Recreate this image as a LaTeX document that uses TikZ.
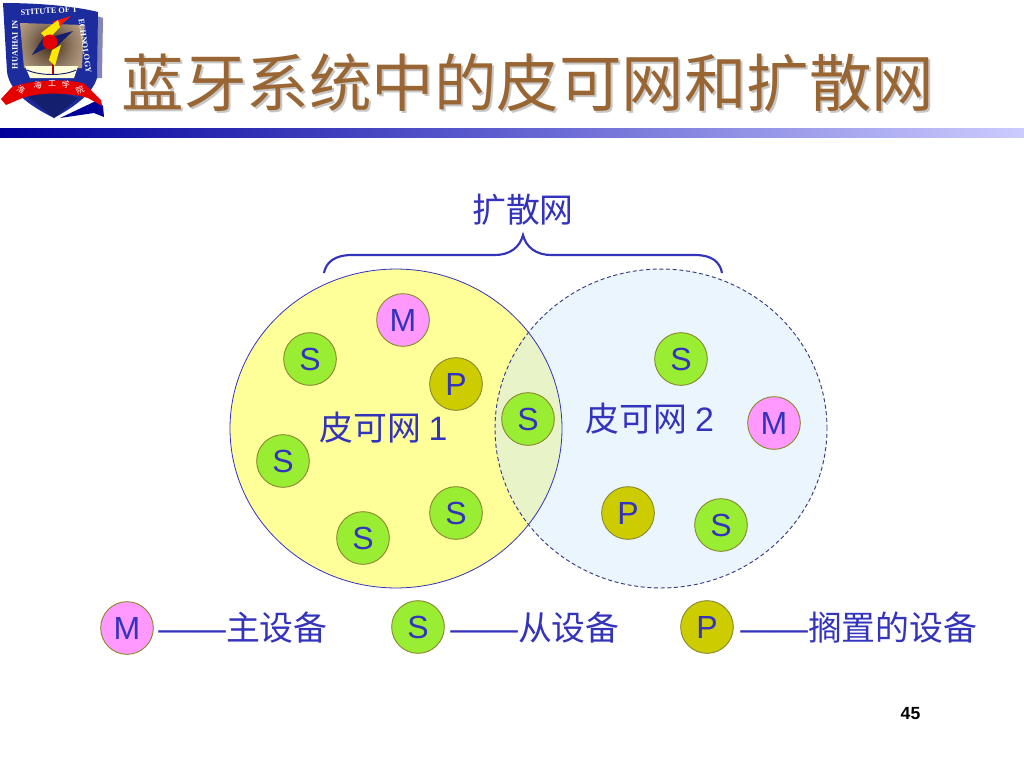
\documentclass[tikz,border=0pt]{standalone}
\usepackage{fontspec}
\setmainfont{Liberation Sans}
\newfontfamily\cjk{Noto Sans CJK SC}
\newfontfamily\logoserif{Liberation Serif}
\definecolor{inkblue}{HTML}{3333BB}
\definecolor{titlebrown}{HTML}{996633}
\definecolor{pinkm}{HTML}{FF99FF}
\definecolor{greens}{HTML}{99EE33}
\definecolor{olivep}{HTML}{CCCC00}
\definecolor{pale}{HTML}{FFFF99}
\definecolor{skyb}{HTML}{EAF5FE}
\definecolor{lapc}{HTML}{E8F3C8}
\definecolor{shieldb}{HTML}{1C2C9C}
\definecolor{edgeo}{HTML}{8A8A30}
\definecolor{dashc}{HTML}{3A3A80}
\pgfdeclareradialshading{logopic}{\pgfpoint{0bp}{0bp}}{color(0bp)=(black!65!brown);color(9bp)=(black!50!brown!70!white);color(20bp)=(brown!50!white);color(25bp)=(brown!30!white);color(50bp)=(brown!30!white)}
\tikzset{
  x=0.75pt,y=-0.75pt,
  dev/.style={circle,draw=edgeo,line width=0.7pt,minimum size=39.5pt,inner sep=0pt,text=inkblue,font=\fontsize{24}{24}\selectfont},
  devm/.style={dev,fill=pinkm},
  devs/.style={dev,fill=greens},
  devp/.style={dev,fill=olivep},
  lbl/.style={text=inkblue,font=\fontsize{25.4}{26}\selectfont\cjk,inner sep=0pt},
  logotxt/.style={inner sep=0pt,text=white,font=\fontsize{6.2}{6}\selectfont\logoserif\bfseries},
  ribbontxt/.style={inner sep=0pt,text=white,font=\fontsize{6}{6}\selectfont\cjk},
}
\begin{document}
\begin{tikzpicture}
\useasboundingbox (0,0) rectangle (1024,768);
\fill[white] (0,0) rectangle (1024,768);
% logo
\fill[black!45!blue!60!gray,opacity=.6] (97,16) -- (103,18) -- (102,78) -- (92,78) -- cycle;
\fill[shieldb] (3,3) .. controls (30,3) and (70,5) .. (98,12) -- (97,78) .. controls (92,95) and (72,108) .. (54,118) .. controls (30,106) and (10,92) .. (7,72) -- cycle;
\begin{scope}
\clip (20,23) -- (84,25) -- (82,68) -- (24,68) -- cycle;
\shade[shading=logopic] (50,45) circle[radius=62];
\end{scope}
\fill[white!85!yellow] (25,66) -- (78,66) -- (74,78) -- (30,78) -- cycle;
\fill[red!70!black] (52,62) rectangle (54,74);
\draw[shieldb!70!black,line width=0.7pt] (27,70) .. controls (40,76) and (64,76) .. (76,70);
\fill[red!80!orange] (71,16) -- (52,22) -- (60,26) -- cycle;
\fill[yellow!90!orange] (58,20) -- (41,33) -- (48,40) -- (60,27) -- cycle;
\fill[yellow!90!orange] (61,45) -- (52,50) -- (49,60) -- (55,66) -- (58,55) -- cycle;
\fill[shieldb!70!black] (32,55) -- (43,38) -- (48,47) -- cycle;
\fill[shieldb!70!black] (55,36) -- (73,31) -- (56,47) -- cycle;
\fill[red!90!black] (50,42) circle[radius=7.5];
\fill[black!40!blue] (60,118) -- (98,100) -- (103,106) -- (104,117) -- (94,113) -- cycle;
\fill[shieldb!70!black] (28,97) .. controls (40,92) and (64,92) .. (78,98) -- (54,118) -- cycle;
\fill[red!90!black] (1,99) -- (12,87) .. controls (30,80) and (70,78) .. (85,84) -- (101,100) -- (102,106) -- (88,98) .. controls (68,92) and (36,92) .. (20,99) -- (6,105) -- cycle;
\node[logotxt,rotate=90] (logoa) at (15,45) {HUAIHAI IN};
\node[logotxt,rotate=4] (logob) at (49,11) {STITUTE OF T};
\node[logotxt,rotate=-82] (logoc) at (85,46) {ECHNOLOGY};
\node[ribbontxt,rotate=-28] (r1) at (21,90) {淮};
\node[ribbontxt,rotate=-12] (r2) at (38,85) {海};
\node[ribbontxt] (r3) at (52,84) {工};
\node[ribbontxt,rotate=12] (r4) at (66,85) {学};
\node[ribbontxt,rotate=25] (r5) at (80,90) {院};
% title
\node[text=black!22,inner sep=0pt,font=\fontsize{46.9}{47}\selectfont\cjk] (titleshadow) at (530,85) {蓝牙系统中的皮可网和扩散网};
\node[text=titlebrown,inner sep=0pt,font=\fontsize{46.9}{47}\selectfont\cjk] (title) at (528,83) {蓝牙系统中的皮可网和扩散网};
% bar
\shade[left color=blue!60!black,right color=blue!20!white,middle color=blue!55!gray!80!white] (0,128) rectangle (1024,137);
% piconets
\fill[pale] (396,428.5) ellipse[x radius=124.5pt,y radius=119.6pt];
\fill[skyb] (661,428.5) ellipse[x radius=124.5pt,y radius=119.6pt];
\begin{scope}
\clip (396,428.5) ellipse[x radius=124.5pt,y radius=119.6pt];
\fill[lapc] (661,428.5) ellipse[x radius=124.5pt,y radius=119.6pt];
\end{scope}
\draw[inkblue,line width=0.6pt] (396,428.5) ellipse[x radius=124.5pt,y radius=119.6pt];
\draw[dashc,line width=0.7pt,dash pattern=on 3pt off 2pt] (661,428.5) ellipse[x radius=124.5pt,y radius=119.6pt];
% brace
\draw[inkblue,line width=1.6pt] (324,273) .. controls (326,262) and (335,255) .. (352,255) -- (495,255) .. controls (510,255) and (520,247) .. (523,235) .. controls (526,247) and (536,255) .. (551,255) -- (695,255) .. controls (712,255) and (720,262) .. (722,273);
\node[lbl] (scat) at (523,210) {扩散网};
\node[lbl] (pn1) at (383.5,428) {皮可网 {\rmfamily 1}};
\node[lbl] (pn2) at (650,419) {皮可网 {\rmfamily 2}};
% devices
\node[devm] (m1) at (403,320) {M};
\node[devs] (s1) at (310,359) {S};
\node[devp] (p1) at (456,384) {P};
\node[devs] (s0) at (528,419) {S};
\node[devs] (s2) at (283,461) {S};
\node[devs] (s3) at (456,513) {S};
\node[devs] (s4) at (363,538) {S};
\node[devs] (s5) at (681,359) {S};
\node[devm] (m2) at (774,423) {M};
\node[devp] (p2) at (628,513) {P};
\node[devs] (s6) at (721,525) {S};
% legend
\node[devm] (lm) at (127,628) {M};
\node[devs] (ls) at (418,627) {S};
\node[devp] (lp) at (707,627) {P};
\node[lbl,anchor=west] (tm) at (158,628) {{\rmfamily ——}主设备};
\node[lbl,anchor=west] (ts) at (450,628) {{\rmfamily ——}从设备};
\node[lbl,anchor=west] (tp) at (740,628) {{\rmfamily ——}搁置的设备};
\node[inner sep=0pt,font=\fontsize{13.2}{14}\selectfont\bfseries] (pg) at (910.5,714) {45};
\end{tikzpicture}
\end{document}
